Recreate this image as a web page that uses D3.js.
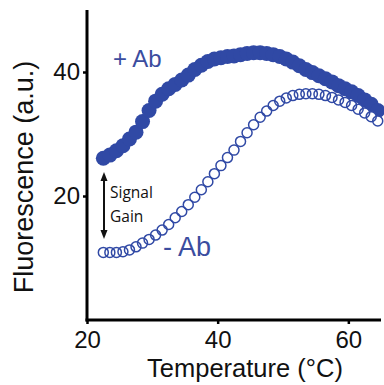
<!DOCTYPE html>
<html><head><meta charset="utf-8">
<script src="https://cdn.jsdelivr.net/npm/d3@7"></script>
<style>
html,body{margin:0;padding:0;background:#fff;}
svg{display:block;}
</style></head>
<body>
<svg id="chart" width="384" height="385"></svg>
<script>
// ---- data ----
const temps = [22.5,23.5,24.5,25.5,26.5,27.5,28.5,29.5,30.5,31.5,32.5,33.5,34.5,35.5,36.5,37.5,38.5,39.5,40.5,41.5,42.5,43.5,44.5,45.5,46.5,47.5,48.5,49.5,50.5,51.5,52.5,53.5,54.5,55.5,56.5,57.5,58.5,59.5,60.5,61.5,62.5,63.5,64.5];
const plusAb = [26.1,26.6,27.3,28.1,29.2,30.3,32.0,33.8,35.3,36.4,37.3,38.0,38.7,39.5,40.4,41.1,41.7,42.1,42.3,42.5,42.6,42.8,43.0,43.1,43.1,43.0,42.8,42.5,42.1,41.6,41.0,40.4,39.9,39.4,38.9,38.4,37.8,37.3,36.8,36.2,35.5,34.8,33.8];
const minusAb = [10.9,10.9,10.9,11.0,11.3,11.8,12.4,13.0,13.7,14.5,15.4,16.5,17.5,18.6,19.8,21.0,22.3,23.6,24.9,26.2,27.4,28.8,30.2,31.5,32.7,33.7,34.6,35.3,35.8,36.2,36.4,36.5,36.5,36.4,36.2,35.9,35.5,35.1,34.6,34.0,33.4,32.8,32.1];
const xTicks = [20,40,60];
const yTicks = [20,40];
const xLabel = "Temperature (\u00B0C)";
const yLabel = "Fluorescence (a.u.)";
const plusLabel = "+ Ab";
const minusLabel = "- Ab";
const gainLabel = ["Signal","Gain"];

// ---- drawing ----
const svg = d3.select("#chart");
const blue = "#3049a5";
const textBlue = "#3b4d9f";
const x = d3.scaleLinear().domain([20,65]).range([87,381]);
const y = d3.scaleLinear().domain([0,50]).range([320,10]);

const plusPts = temps.map((t,i)=>({t, v:plusAb[i]}));
const minusPts = temps.map((t,i)=>({t, v:minusAb[i]}));

// filled (+Ab)
svg.append("g").selectAll("circle").data(plusPts).join("circle")
  .attr("cx", d=>x(d.t)).attr("cy", d=>y(d.v)).attr("r", 7.5)
  .attr("fill", blue);

// open (-Ab): white disks then outlines
svg.append("g").selectAll("circle").data(minusPts).join("circle")
  .attr("cx", d=>x(d.t)).attr("cy", d=>y(d.v)).attr("r", 5)
  .attr("fill", "#fff");
svg.append("g").selectAll("circle").data(minusPts).join("circle")
  .attr("cx", d=>x(d.t)).attr("cy", d=>y(d.v)).attr("r", 5)
  .attr("fill", "none").attr("stroke", blue).attr("stroke-width", 1.5);

// axes
const xAxis = d3.axisBottom(x).tickValues(xTicks).tickSize(4).tickSizeOuter(0).tickPadding(7);
const yAxis = d3.axisLeft(y).tickValues(yTicks).tickSize(4).tickSizeOuter(0).tickPadding(3);
const gx = svg.append("g").attr("transform","translate(0,320)").call(xAxis);
const gy = svg.append("g").attr("transform","translate(87,0)").call(yAxis);
[gx,gy].forEach(g=>{
  g.select(".domain").attr("stroke","#000").attr("stroke-width",3);
  g.selectAll(".tick line").attr("stroke","#000").attr("stroke-width",2.5);
  g.selectAll(".tick text").attr("font-family","'Liberation Sans', Arial, sans-serif")
    .attr("font-size",24).attr("fill","#111");
});
gy.select(".domain").attr("d","M0,321.5V10");
gx.select(".domain").attr("d","M85.5,0H381");

// axis titles
svg.append("text").attr("x",245).attr("y",377).attr("text-anchor","middle")
  .attr("font-family","'Liberation Sans', Arial, sans-serif").attr("font-size",25.5).attr("fill","#111")
  .text(xLabel);
svg.append("text").attr("transform","translate(33,177) rotate(-90)").attr("text-anchor","middle")
  .attr("font-family","'Liberation Sans', Arial, sans-serif").attr("font-size",27).attr("fill","#111")
  .text(yLabel);

// series labels
svg.append("text").attr("x",113).attr("y",67)
  .attr("font-family","'Liberation Sans', Arial, sans-serif").attr("font-size",24).attr("fill",textBlue)
  .text(plusLabel);
svg.append("text").attr("x",163).attr("y",256)
  .attr("font-family","'Liberation Sans', Arial, sans-serif").attr("font-size",27).attr("fill",textBlue)
  .text(minusLabel);

// signal gain arrow
const ax = 104, ay1 = 172, ay2 = 239;
svg.append("line").attr("x1",ax).attr("x2",ax).attr("y1",ay1+6).attr("y2",ay2-6)
  .attr("stroke","#111").attr("stroke-width",2);
svg.append("path").attr("d",`M${ax},${ay1}L${ax-3.5},${ay1+9}L${ax+3.5},${ay1+9}Z`).attr("fill","#111");
svg.append("path").attr("d",`M${ax},${ay2}L${ax-3.5},${ay2-9}L${ax+3.5},${ay2-9}Z`).attr("fill","#111");
svg.append("text").attr("x",110).attr("y",198)
  .attr("font-family","'Open Sans', sans-serif").attr("font-size",15.5).attr("fill","#111")
  .text(gainLabel[0]);
svg.append("text").attr("x",110).attr("y",222)
  .attr("font-family","'Open Sans', sans-serif").attr("font-size",15.5).attr("fill","#111")
  .text(gainLabel[1]);
</script>
</body></html>
